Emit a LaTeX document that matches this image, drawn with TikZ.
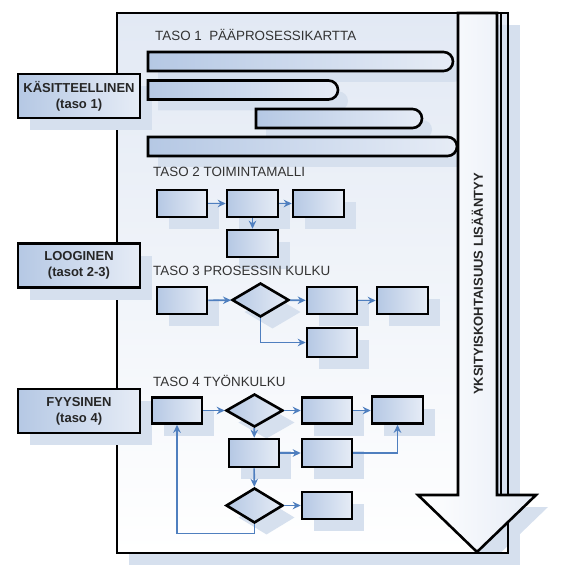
\documentclass[tikz,border=0pt]{standalone}
\usepackage{fontspec}
\setmainfont{Liberation Sans}
\usetikzlibrary{shapes.geometric,shapes.misc,arrows.meta,shadows}
\definecolor{shd}{HTML}{D6E0EE}
\definecolor{bxL}{HTML}{B5C8E4}
\definecolor{bxR}{HTML}{E6ECF6}
\definecolor{ln}{HTML}{4F7FBF}
\definecolor{pgtop}{HTML}{E2E9F4}
\definecolor{txt}{HTML}{333333}
\begin{document}
\begin{tikzpicture}[x=1pt,y=-1pt,
  sh/.style={drop shadow={shadow xshift=12pt, shadow yshift=-12pt, fill=shd, opacity=1}},
  shb/.style={drop shadow={shadow xshift=10pt, shadow yshift=-11pt, fill=shd, opacity=1}},
  fillbox/.style={left color=bxL, right color=bxR, draw=black, line width=2.6pt, inner sep=0pt},
  box/.style={fillbox, sh, rectangle, minimum width=50pt, minimum height=27pt},
  dia/.style={fillbox, sh, diamond, minimum width=57pt, minimum height=34pt},
  bar/.style={fillbox, shb, rounded rectangle, rounded rectangle left arc=none, minimum height=19pt},
  lab/.style={fillbox, sh, rectangle, minimum width=122pt, minimum height=44pt, align=center,
    font=\bfseries\fontsize{13}{16}\selectfont, text=black!85},
  ttl/.style={anchor=base west, inner sep=0pt, font=\fontsize{13.4}{15}\selectfont, text=txt},
  conn/.style={draw=ln, line width=1.6pt, -{Stealth[length=8pt,width=7.5pt]}}
]
\useasboundingbox (0,0) rectangle (581,572);
% page
\fill[shd] (129,25) rectangle (520,565);
\shade[top color=pgtop, bottom color=white] (117,13) rectangle (508,553);
% arrow shadow
\fill[shd] (470,25) -- (509,25) -- (509,507) -- (548,507) -- (489,564) -- (430,507) -- (470,507) -- cycle;
\draw[line width=2.6pt] (117,13) rectangle (508,553);

% level labels
\node[lab] (kas) at (79,96) {KÄSITTEELLINEN\\(taso 1)};
\node[lab] (loo) at (79,265.5) {LOOGINEN\\(tasot 2-3)};
\node[lab] (fyy) at (79,411) {FYYSINEN\\(taso 4)};

% taso 1
\node[ttl] (t1) at (155,41) {TASO 1\ \ PÄÄPROSESSIKARTTA};
\node[bar, minimum width=305pt] (b1) at (300.5,61.5) {};
\node[bar, minimum width=190pt] (b2) at (243,90) {};
\node[bar, minimum width=166pt] (b3) at (339,118.5) {};
\node[bar, minimum width=309pt] (b4) at (302.5,146.5) {};

% taso 2
\node[ttl] (t2) at (153,177) {TASO 2 TOIMINTAMALLI};
\node[box] (a2) at (182,203.5) {};
\node[box, minimum width=51pt] (b2b) at (252.5,203.5) {};
\node[box, minimum width=51pt] (c2) at (318.5,203.5) {};
\node[box, minimum width=51pt] (d2) at (252.5,243.5) {};
\draw[conn] (a2) -- (b2b);
\draw[conn] (b2b) -- (c2);
\draw[conn] (b2b) -- (d2);

% taso 3
\node[ttl] (t3) at (153,276) {TASO 3 PROSESSIN KULKU};
\node[box] (e3) at (182,300.5) {};
\node[dia] (q3) at (260.5,300) {};
\node[box] (f3) at (332,300.5) {};
\node[box, minimum width=51pt] (g3) at (402.5,300.5) {};
\node[box, minimum height=29pt] (h3) at (332,342.5) {};
\draw[conn] (e3) -- (q3);
\draw[conn] (q3) -- (f3);
\draw[conn] (f3) -- (g3);
\draw[conn] (q3.south) |- (h3.west);

% taso 4
\node[ttl] (t4) at (153,386) {TASO 4 TYÖNKULKU};
\node[box, minimum height=26pt] (i4) at (177,410.5) {};
\node[dia, minimum height=33pt] (d4a) at (254.5,410.5) {};
\node[box, minimum height=26pt] (j4) at (327,410.5) {};
\node[box, minimum width=51pt] (k4) at (397.5,410) {};
\node[box, minimum height=28pt] (l4) at (254,453) {};
\node[box, minimum height=28pt] (m4) at (327,453) {};
\node[dia, minimum height=35pt] (d4b) at (254.5,505.5) {};
\node[box] (n4) at (327,505.5) {};
\draw[conn] (i4) -- (d4a);
\draw[conn] (d4a) -- (j4);
\draw[conn] (j4.east) -- (k4.west |- j4.east);
\draw[conn] (d4a) -- (l4);
\draw[conn] (l4) -- (m4);
\draw[conn] (m4.east) -| (k4.south);
\draw[conn] (l4) -- (d4b);
\draw[conn] (d4b) -- (n4);
\draw[conn] (d4b.south) -- ++(0,9) -| (i4.south);

% big arrow
\shade[left color=white, right color=bxR, draw=black, line width=2.6pt, line join=miter]
  (458,13) -- (497,13) -- (497,495) -- (536,495) -- (477,552) -- (418,495) -- (458,495) -- cycle;
\draw[line width=2pt] (500.5,13) -- (500.5,495);
\node[rotate=90, font=\bfseries\fontsize{13}{15}\selectfont, text=black!85] (yk) at (477.5,284) {YKSITYISKOHTAISUUS LISÄÄNTYY};
\end{tikzpicture}
\end{document}
